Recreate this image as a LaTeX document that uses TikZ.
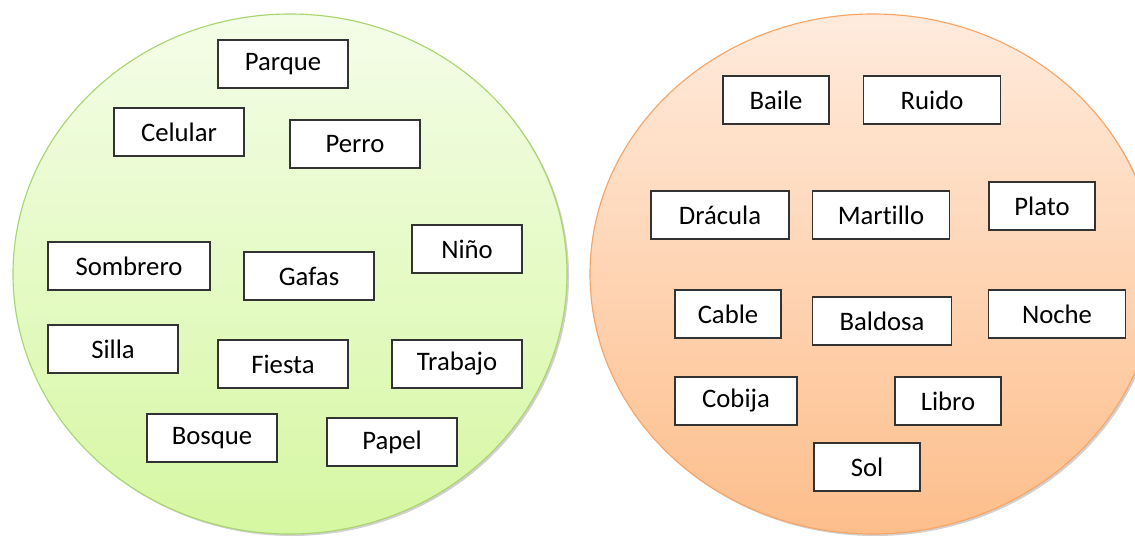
\documentclass[tikz,border=0pt]{standalone}
\usepackage{fontspec}
\setmainfont[Ligatures={NoCommon}]{Carlito}
\definecolor{greentop}{HTML}{F4FDE8}
\definecolor{greenbot}{HTML}{D6F7A2}
\definecolor{greenline}{HTML}{A9D46E}
\definecolor{orangetop}{HTML}{FFEBDD}
\definecolor{orangebot}{HTML}{FDBE8B}
\definecolor{orangeline}{HTML}{F8A464}
\begin{document}
\begin{tikzpicture}[x=.025cm, y=-.025cm,
    wordbox/.style={draw=black!80, line width=.9pt, fill=white, inner sep=0pt,
        minimum height=1.2cm, font=\fontsize{19}{21}\selectfont}]
\useasboundingbox (0,0) rectangle (1135,538);

% shadows
\fill[black!18] (292,276) ellipse (277 and 260);
\fill[black!18] (875,276) ellipse (283 and 260);
% the two sets
\shade[top color=greentop, bottom color=greenbot, draw=greenline, line width=.8pt]
    (290,274) ellipse (277 and 260);
\shade[top color=orangetop, bottom color=orangebot, draw=orangeline, line width=.8pt]
    (873,274) ellipse (283 and 260);

% left set
\foreach \n/\x/\y/\w/\t in {parque/283/64/130/Parque, celular/179/132/130/Celular,
    perro/355/144/130/Perro, sombrero/129/266/162/Sombrero, gafas/309/276/130/Gafas,
    nino/467/249/110/Niño, silla/113/349/130/Silla, fiesta/283/364/130/Fiesta,
    trabajo/457/364/130/Trabajo, bosque/212/438/130/Bosque, papel/392/442/130/Papel}
{
    \node[wordbox, minimum width=\w*.025cm] (\n) at (\x,\y) {\t};
}

% right set
\foreach \n/\x/\y/\w/\t in {baile/776/100/106/Baile, ruido/932/100/137/Ruido,
    dracula/720/215/138/Drácula, martillo/881/215/137/Martillo, plato/1042/206/106/Plato,
    cable/728/314/106/Cable, baldosa/882/321/139/Baldosa, noche/1057/314/137/Noche,
    cobija/736/401/122/Cobija, libro/948/401/106/Libro, sol/867/467/106/Sol}
{
    \node[wordbox, minimum width=\w*.025cm] (\n) at (\x,\y) {\t};
}
\end{tikzpicture}
\end{document}
